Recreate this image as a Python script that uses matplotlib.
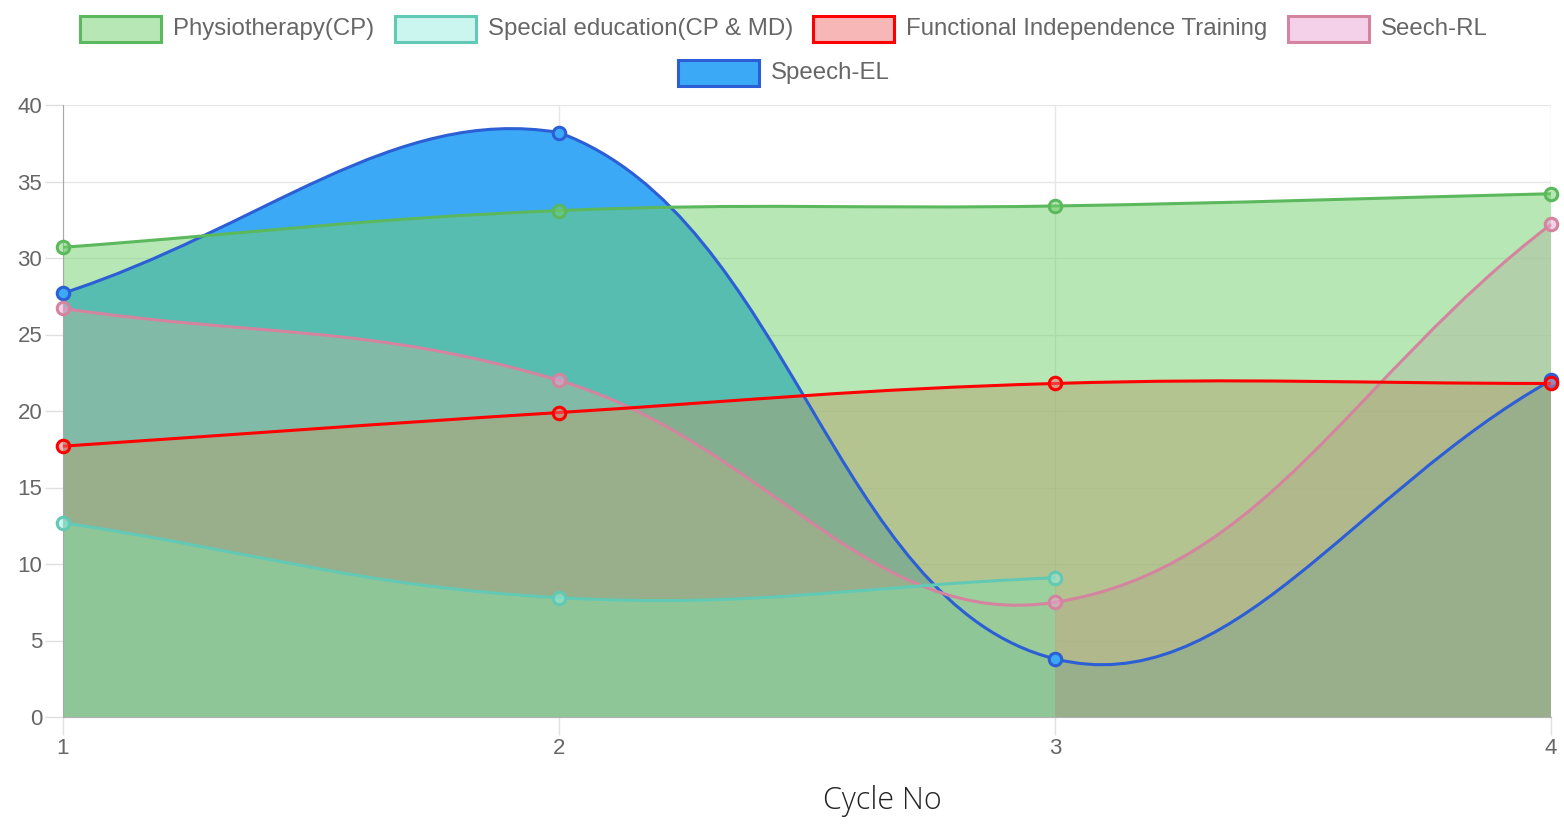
import numpy as np
import matplotlib.pyplot as plt
from matplotlib.path import Path
from matplotlib.patches import PathPatch, Rectangle

plt.rcParams["font.family"] = ["Liberation Sans", "DejaVu Sans"]

cycles = [1, 2, 3, 4]
physio = [30.7, 33.1, 33.4, 34.2]
special_ed = [12.7, 7.8, 9.1]
fit = [17.7, 19.9, 21.8, 21.8]
seech_rl = [26.7, 22.0, 7.5, 32.2]
speech_el = [27.7, 38.2, 3.8, 22.0]

names = ["Physiotherapy(CP)", "Special education(CP & MD)",
         "Functional Independence Training", "Seech-RL", "Speech-EL"]
series = [physio, special_ed, fit, seech_rl, speech_el]
line_colors = ["#5cb85c", "#62c9b4", "#ff0000", "#d4849f", "#2c5fd6"]
fill_colors = [(113/255, 209/255, 109/255, 0.5), (153/255, 237/255, 225/255, 0.5),
               (241/255, 113/255, 113/255, 0.5), (235/255, 165/255, 213/255, 0.5),
               (59/255, 169/255, 245/255, 1.0)]

W, H = 1564, 827


def spline_verts(ax, xs, ys, tension=0.4):
    """Chart.js style spline, worked out in pixel space, back in data coords."""
    pts = ax.transData.transform(np.column_stack([xs, ys]))
    left, bottom, right, top = ax.bbox.extents
    n = len(pts)
    cps = []
    for i in range(n):
        prev = pts[max(i - 1, 0)]
        cur = pts[i]
        nxt = pts[min(i + 1, n - 1)]
        d01 = np.hypot(*(cur - prev))
        d12 = np.hypot(*(nxt - cur))
        tot = d01 + d12
        s01 = d01 / tot if tot else 0
        s12 = d12 / tot if tot else 0
        before = cur - tension * s01 * (nxt - prev)
        after = cur + tension * s12 * (nxt - prev)
        for c in (before, after):
            c[0] = min(max(c[0], left), right)
            c[1] = min(max(c[1], bottom), top)
        cps.append((before, after))
    verts = [pts[0]]
    codes = [Path.MOVETO]
    for i in range(1, n):
        verts += [cps[i - 1][1], cps[i][0], pts[i]]
        codes += [Path.CURVE4] * 3
    verts = ax.transData.inverted().transform(np.array(verts))
    return verts, codes


fig = plt.figure(figsize=(W / 100, H / 100), dpi=100)
ax = fig.add_axes([63 / W, 1 - 717 / H, (1551 - 63) / W, (717 - 105) / H])
ax.set_xlim(1, 4)
ax.set_ylim(0, 40)

# fills first (last dataset at the bottom), then lines on top
for k in range(len(series) - 1, -1, -1):
    ys = series[k]
    xs = cycles[:len(ys)]
    verts, codes = spline_verts(ax, xs, ys)
    fv = np.vstack([verts, [[xs[-1], 0], [xs[0], 0], [xs[0], 0]]])
    fc = codes + [Path.LINETO, Path.LINETO, Path.CLOSEPOLY]
    ax.add_patch(PathPatch(Path(fv, fc), facecolor=fill_colors[k],
                           edgecolor="none", zorder=2 + (4 - k) * 0.1))

for k in range(len(series) - 1, -1, -1):
    ys = series[k]
    xs = cycles[:len(ys)]
    verts, codes = spline_verts(ax, xs, ys)
    z = 5 + (4 - k) * 0.1
    ax.add_patch(PathPatch(Path(verts, codes), facecolor="none",
                           edgecolor=line_colors[k], lw=2.2, zorder=z,
                           clip_on=False))
    ax.plot(xs, ys, "o", ms=9, mew=2.2, mec=line_colors[k],
            mfc=fill_colors[k], zorder=z + 0.05, clip_on=False)

ax.set_yticks(range(0, 41, 5))
ax.set_xticks(cycles)
ax.grid(True, color="#e6e6e6", lw=1, zorder=0)
ax.set_axisbelow(True)
ax.tick_params(axis="both", length=13, width=1, color="#e0e0e0",
               labelcolor="#666666", labelsize=16, pad=2)
for side in ["top", "right"]:
    ax.spines[side].set_visible(False)
ax.spines["left"].set_color("#a8a8a8")
ax.spines["bottom"].set_color("#b0b0b0")
fig.text(882 / W, 1 - 801 / H, "Cycle No", family=["Open Sans", "DejaVu Sans"],
         fontweight="light", fontsize=22, color="#222222",
         ha="center", va="center")

# legend drawn by hand, two centred rows like the original
box_x = [80, 395, 813, 1288, 678]
box_y = [16, 16, 16, 16, 60]
for k, name in enumerate(names):
    bx, by = box_x[k], box_y[k]
    fig.add_artist(Rectangle((bx / W, 1 - (by + 26) / H), 81 / W, 26 / H,
                             transform=fig.transFigure, facecolor=fill_colors[k],
                             edgecolor=line_colors[k], lw=2.2))
    fig.text((bx + 93) / W, 1 - (by + 13) / H, name, fontsize=17.3,
             color="#666666", va="center", ha="left")

fig.savefig("out.png", dpi=100)
